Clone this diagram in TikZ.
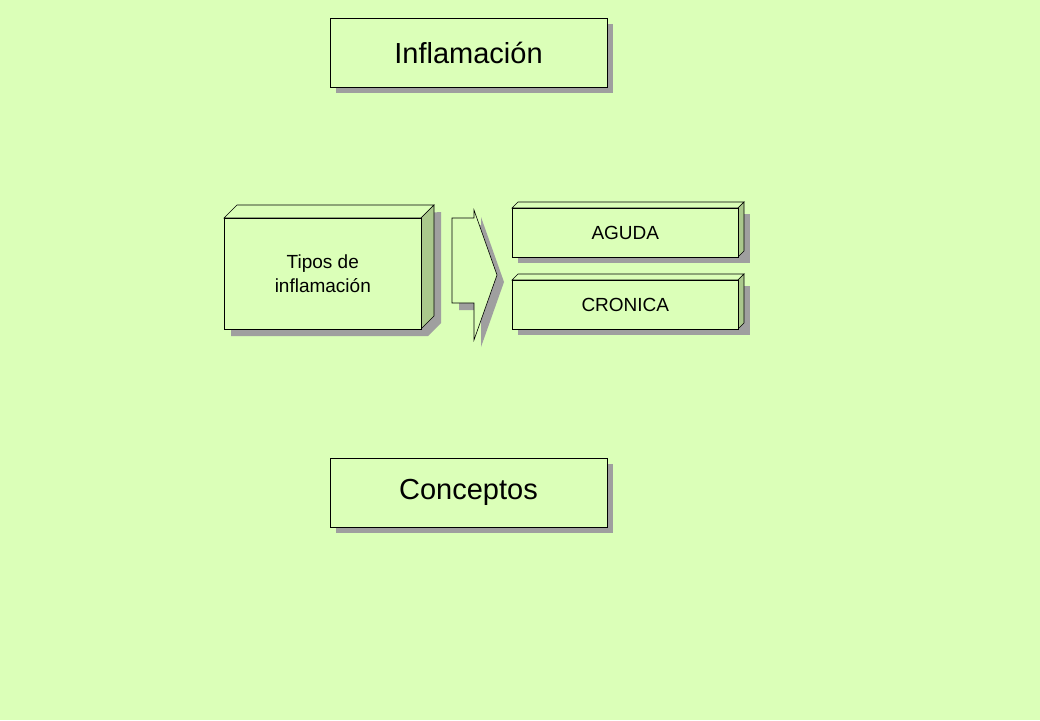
\documentclass[tikz,border=0pt]{standalone}
\usepackage{fontspec}
\setmainfont{Liberation Sans}
\begin{document}
\begin{tikzpicture}[x=1pt,y=-1pt,
  face/.style={draw=black,line width=0.6pt,fill=boxfill},
  side/.style={draw=black,line width=0.6pt,fill=boxside},
  shade/.style={fill=gray!75,draw=none},
  lbl/.style={font=\fontsize{19}{24}\selectfont,align=center},
  big/.style={font=\fontsize{29}{34}\selectfont}]
\definecolor{bg}{RGB}{219,255,184}
\definecolor{boxfill}{RGB}{219,255,184}
\definecolor{boxside}{RGB}{170,200,140}
\fill[bg] (0,0) rectangle (1040,720);
\useasboundingbox (0,0) rectangle (1040,720);
% title boxes
\fill[shade] (336,24) rectangle (613,93);
\node[face,minimum width=277,minimum height=69,big] (t) at (468.5,52.5) {Inflamación};
\fill[shade] (336,464) rectangle (613,533);
\node[face,minimum width=277,minimum height=69,big] (c) at (468.5,492.5) {Conceptos};
% tipos box
\fill[shade] (231,225) -- (441,212) -- (441,323) -- (428,336) -- (231,336) -- cycle;
\draw[face] (224,218) -- (237,205) -- (434,205) -- (421,218) -- cycle;
\draw[side] (421,218) -- (434,205) -- (434,316) -- (421,329) -- cycle;
\node[face,minimum width=197,minimum height=111,lbl,anchor=north west] (tipos) at (224,218) {Tipos de\\inflamación};
% arrow
\fill[shade] (459,225) -- (481,225) -- (481,217) -- (504,282) -- (481,347) -- (481,310) -- (459,310) -- cycle;
\draw[face] (452,218) -- (474,218) -- (474,210) -- (497,275) -- (474,340) -- (474,303) -- (452,303) -- cycle;
\coordinate (arr) at (474,275);
% AGUDA
\fill[shade] (518,214) rectangle (750,263);
\draw[face] (512,208) -- (518,202) -- (744,202) -- (738,208) -- cycle;
\draw[side] (738,208) -- (744,202) -- (744,251) -- (738,257) -- cycle;
\node[face,minimum width=226,minimum height=49,lbl,anchor=north west] (ag) at (512,208) {AGUDA};
% CRONICA
\fill[shade] (518,286) rectangle (750,335);
\draw[face] (512,280) -- (518,274) -- (744,274) -- (738,280) -- cycle;
\draw[side] (738,280) -- (744,274) -- (744,323) -- (738,329) -- cycle;
\node[face,minimum width=226,minimum height=49,lbl,anchor=north west] (cr) at (512,280) {CRONICA};
\end{tikzpicture}
\end{document}
